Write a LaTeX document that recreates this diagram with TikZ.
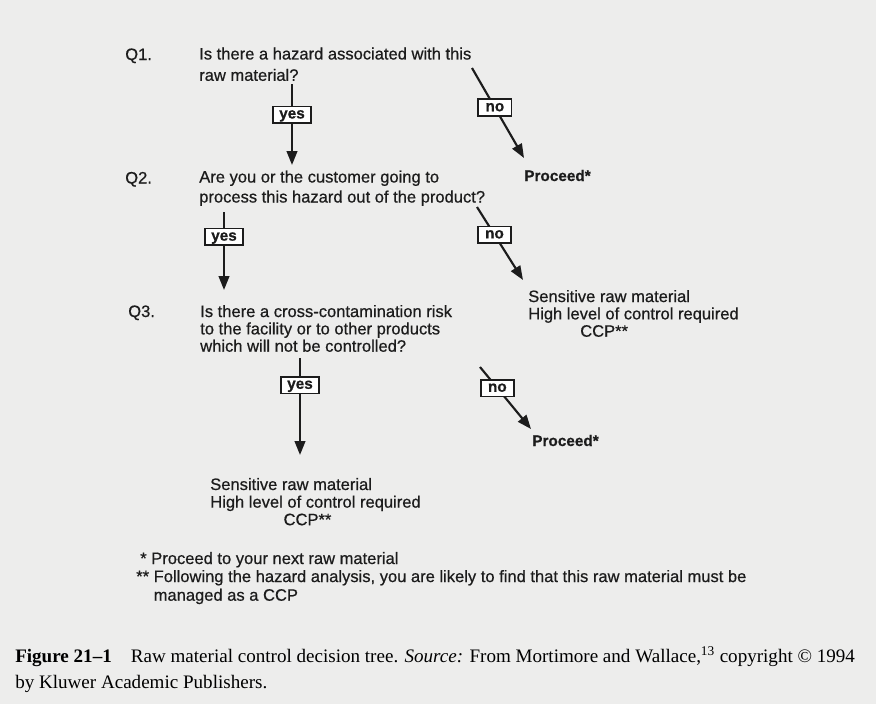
\documentclass[tikz,border=0pt]{standalone}
\usepackage{fontspec}
\setmainfont{Liberation Serif}
\newfontfamily\diagfont[FakeBold=0.6]{Liberation Sans}
\usetikzlibrary{arrows.meta}
\definecolor{paper}{RGB}{237,237,236}
\definecolor{ink}{RGB}{28,28,28}
\tikzset{
  qtext/.style={
    anchor=base west, align=left, inner sep=0pt,
    text=ink, font=\diagfont\fontsize{12.4}{#1}\selectfont
  },
  qtext/.default=15,
  outnode/.style={
    anchor=base west, inner sep=0pt,
    text=ink, font=\diagfont\bfseries\fontsize{11.5}{14}\selectfont
  },
  ansbox/.style={
    rectangle, draw=ink, line width=1.3pt, fill=white,
    inner sep=0.5pt, minimum width=#1, minimum height=12.5pt,
    text height=7.5pt, text depth=2pt,
    text=ink, font=\diagfont\bfseries\fontsize{11.5}{11.5}\selectfont
  },
  ansbox/.default=29pt,
  treearrow/.style={-{Triangle[length=10.5pt,width=8pt]}, line width=1.6pt, draw=ink},
  captext/.style={
    anchor=base west, align=left, inner sep=0pt,
    text=black, font=\fontsize{14.3}{19.5}\selectfont
  },
}

\begin{document}
\begin{tikzpicture}[x=0.75pt, y=-0.75pt]
    \fill[paper] (0,0) rectangle (876,704);
    \useasboundingbox (0,0) rectangle (876,704);

    % questions (base = last line)
    \node[qtext] (lq1) at (125,60)  {Q1.};
    \node[qtext=16] (q1) at (199,80.8) {Is there a hazard associated with this\\raw material?};
    \node[qtext] (lq2) at (125,183.5) {Q2.};
    \node[qtext] (q2) at (199,202.5) {Are you or the customer going to\\process this hazard out of the product?};
    \node[qtext] (lq3) at (128,317) {Q3.};
    \node[qtext=13] (q3) at (200,351.7) {Is there a cross-contamination risk\\to the facility or to other products\\which will not be controlled?};

    % outcomes
    \node[outnode] (pr1) at (524,181) {Proceed*};
    \node[qtext=13] (sens1) at (528,336.7) {Sensitive raw material\\High level of control required\\\hspace*{39pt}CCP**};
    \node[outnode] (pr3) at (532,446) {Proceed*};
    \node[qtext=13.2] (sens3) at (210,525.2) {Sensitive raw material\\High level of control required\\\hspace*{55pt}CCP**};

    % arrows
    \coordinate (q1y0) at (292,84);  \coordinate (q1y1) at (292,165);
    \coordinate (q1n0) at (472,68);  \coordinate (q1n1) at (524,158);
    \coordinate (q2y0) at (224,212); \coordinate (q2y1) at (224,290);
    \coordinate (q2n0) at (477,207); \coordinate (q2n1) at (523,280);
    \coordinate (q3y0) at (300,358); \coordinate (q3y1) at (300,455);
    \coordinate (q3n0) at (480,367); \coordinate (q3n1) at (531,429);
    \draw[treearrow] (q1y0) -- node[ansbox, pos=0.38] (yes1) {yes} (q1y1);
    \draw[treearrow] (q1n0) -- node[ansbox=25pt, pos=0.44] (no1) {no} (q1n1);
    \draw[treearrow] (q2y0) -- node[ansbox, pos=0.32] (yes2) {yes} (q2y1);
    \draw[treearrow] (q2n0) -- node[ansbox=25pt, pos=0.38] (no2) {no} (q2n1);
    \draw[treearrow] (q3y0) -- node[ansbox, pos=0.28] (yes3) {yes} (q3y1);
    \draw[treearrow] (q3n0) -- node[ansbox=25pt, pos=0.34] (no3) {no} (q3n1);

    % footnotes
    \node[qtext] (fn1) at (140,564) {* Proceed to your next raw material};
    \node[qtext=14] (fn2) at (136,600.7) {** Following the hazard analysis, you are likely to find that this raw material must be\\\phantom{**} managed as a CCP};

    % caption
    \node[captext] (cap) at (15,688) {\textbf{Figure 21--1}\quad Raw material control decision tree. \textit{Source:} From Mortimore and Wallace,\textsuperscript{13} copyright © 1994\\by Kluwer Academic Publishers.};
\end{tikzpicture}
\end{document}
